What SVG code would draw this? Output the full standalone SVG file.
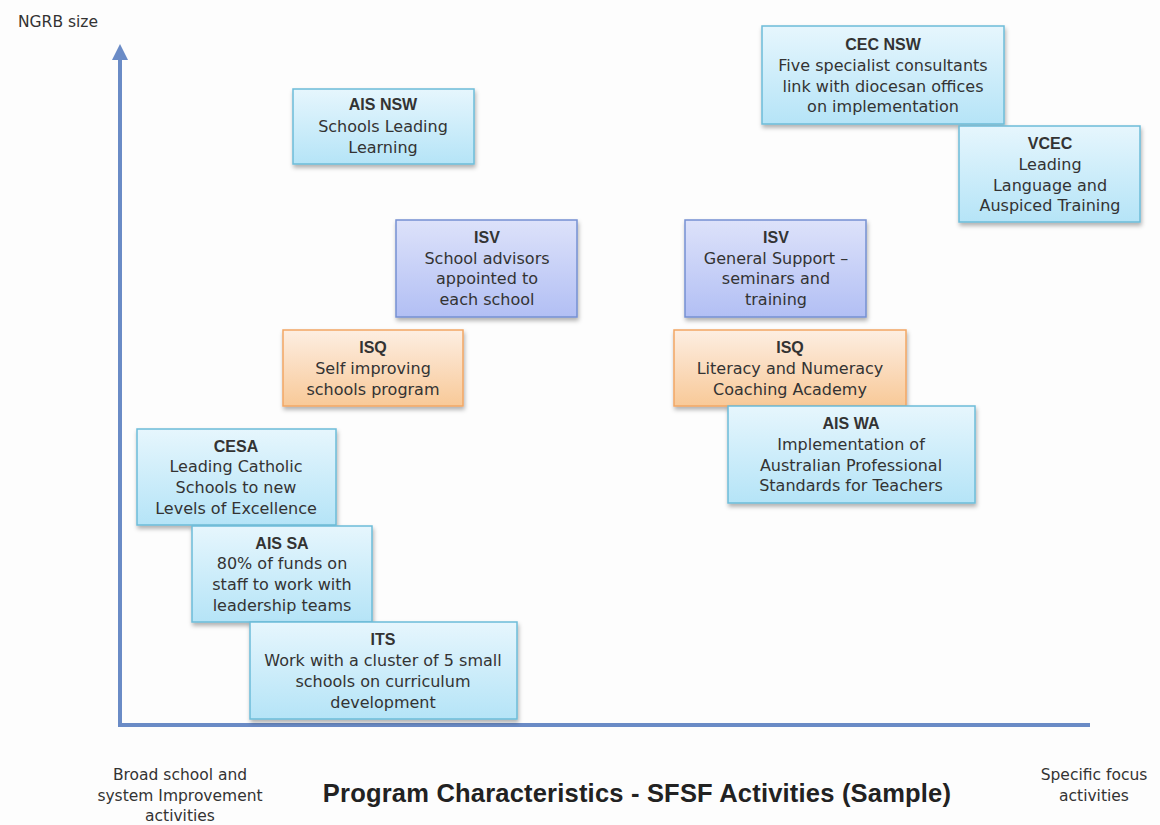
<svg xmlns="http://www.w3.org/2000/svg" width="1160" height="825" viewBox="0 0 1160 825">
<defs>
<linearGradient id="gBlue" x1="0" y1="0" x2="0" y2="1"><stop offset="0" stop-color="#e6f6fd"/><stop offset="1" stop-color="#b5e4f7"/></linearGradient>
<linearGradient id="gPurple" x1="0" y1="0" x2="0" y2="1"><stop offset="0" stop-color="#dde2fa"/><stop offset="1" stop-color="#b2bff4"/></linearGradient>
<linearGradient id="gOrange" x1="0" y1="0" x2="0" y2="1"><stop offset="0" stop-color="#fdeee2"/><stop offset="1" stop-color="#f8c998"/></linearGradient>
<filter id="sh" x="-10%" y="-10%" width="120%" height="130%"><feDropShadow dx="1" dy="3" stdDeviation="2" flood-color="#000" flood-opacity="0.3"/></filter>
<marker id="ah" viewBox="0 0 10 10" refX="5" refY="5" markerWidth="4" markerHeight="4" orient="auto"><path d="M0,0 L10,5 L0,10 z" fill="#6a8bc6"/></marker>
</defs>
<style>
.blue{fill:url(#gBlue);stroke:#6cbcd9;stroke-width:1.5;filter:url(#sh)}
.purple{fill:url(#gPurple);stroke:#7590d2;stroke-width:1.5;filter:url(#sh)}
.orange{fill:url(#gOrange);stroke:#f2a764;stroke-width:1.5;filter:url(#sh)}
text{font-family:"DejaVu Sans","Liberation Sans",sans-serif;fill:#333;font-size:16px;text-anchor:middle}
.b{font-weight:bold;font-family:"Liberation Sans",Arial,sans-serif;font-size:16px}
.ax{stroke:#6a8bc6;stroke-width:4;fill:none}
.lab{font-size:15.5px}
.title{font-size:25.5px;font-weight:bold;fill:#222;font-family:"Liberation Sans",Arial,sans-serif;letter-spacing:0.2px}
</style>
<rect width="1160" height="825" fill="#fdfdfd"/>
<g id="connectors">
<path class="ax" d="M120,725 L120,52" marker-end="url(#ah)"/>
<path class="ax" d="M118,725 L1090,725"/>
</g>
<g id="ais-nsw"><rect class="blue" x="293" y="89" width="181" height="75"/>
<text x="383" y="110" class="b">AIS NSW</text><text x="383" y="132">Schools Leading</text><text x="383" y="153">Learning</text></g>
<g id="cec-nsw"><rect class="blue" x="762" y="26" width="242" height="98"/>
<text x="883" y="50" class="b">CEC NSW</text><text x="883" y="71">Five specialist consultants</text><text x="883" y="92">link with diocesan offices</text><text x="883" y="112">on implementation</text></g>
<g id="vcec"><rect class="blue" x="959" y="126" width="181" height="96"/>
<text x="1050" y="149" class="b">VCEC</text><text x="1050" y="170">Leading</text><text x="1050" y="191">Language and</text><text x="1050" y="211">Auspiced Training</text></g>
<g id="isv-left"><rect class="purple" x="396" y="220" width="181" height="97"/>
<text x="487" y="243" class="b">ISV</text><text x="487" y="264">School advisors</text><text x="487" y="284">appointed to</text><text x="487" y="305">each school</text></g>
<g id="isv-right"><rect class="purple" x="685" y="220" width="181" height="97"/>
<text x="776" y="243" class="b">ISV</text><text x="776" y="264">General Support –</text><text x="776" y="284">seminars and</text><text x="776" y="305">training</text></g>
<g id="isq-left"><rect class="orange" x="283" y="330" width="180" height="76"/>
<text x="373" y="353" class="b">ISQ</text><text x="373" y="374">Self improving</text><text x="373" y="395">schools program</text></g>
<g id="isq-right"><rect class="orange" x="674" y="330" width="232" height="76"/>
<text x="790" y="353" class="b">ISQ</text><text x="790" y="374">Literacy and Numeracy</text><text x="790" y="395">Coaching Academy</text></g>
<g id="ais-wa"><rect class="blue" x="728" y="406" width="247" height="97"/>
<text x="851" y="429" class="b">AIS WA</text><text x="851" y="450">Implementation of</text><text x="851" y="471">Australian Professional</text><text x="851" y="491">Standards for Teachers</text></g>
<g id="cesa"><rect class="blue" x="137" y="429" width="199" height="96"/>
<text x="236" y="452" class="b">CESA</text><text x="236" y="472">Leading Catholic</text><text x="236" y="493">Schools to new</text><text x="236" y="514">Levels of Excellence</text></g>
<g id="ais-sa"><rect class="blue" x="192" y="526" width="180" height="96"/>
<text x="282" y="549" class="b">AIS SA</text><text x="282" y="569">80% of funds on</text><text x="282" y="590">staff to work with</text><text x="282" y="611">leadership teams</text></g>
<g id="its"><rect class="blue" x="250" y="622" width="267" height="97"/>
<text x="383" y="645" class="b">ITS</text><text x="383" y="666">Work with a cluster of 5 small</text><text x="383" y="687">schools on curriculum</text><text x="383" y="708">development</text></g>
<g id="labels">
<text x="18" y="27" class="lab" style="text-anchor:start">NGRB size</text>
<text x="180" y="780" class="lab">Broad school and</text>
<text x="180" y="801" class="lab">system Improvement</text>
<text x="180" y="821" class="lab">activities</text>
<text x="1094" y="780" class="lab">Specific focus</text>
<text x="1094" y="801" class="lab">activities</text>
<text x="637" y="802" class="title">Program Characteristics - SFSF Activities (Sample)</text>
</g>
</svg>
